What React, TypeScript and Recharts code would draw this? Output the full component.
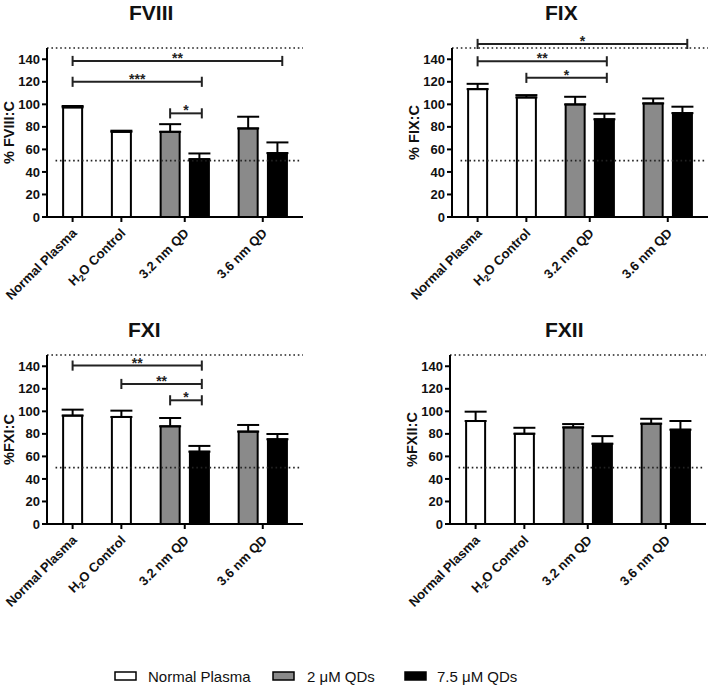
import React from 'react';
import { BarChart, Bar, XAxis, YAxis, ErrorBar, ReferenceLine } from 'recharts';

const FONT = 'Arial, "Liberation Sans", Helvetica, sans-serif';

// ---- data ----
const categories = ['Normal Plasma', 'H2O Control', '3.2 nm QD', '3.6 nm QD'];
const legendLabels = ['Normal Plasma', '2 \u03bcM QDs', '7.5 \u03bcM QDs'];
// group of each of the six bars (index into legendLabels)
const barGroup = [0, 0, 1, 2, 1, 2];
const yTicks = [0, 20, 40, 60, 80, 100, 120, 140];

const fviiiMean = [97.3, 75.6, 75.6, 51.3, 78.6, 56.7];
const fviiiSD = [1.2, 1.0, 6.8, 5.1, 10.4, 9.5];
const fixMean = [113.5, 106.1, 99.9, 86.7, 100.8, 92.2];
const fixSD = [4.7, 2.1, 6.8, 5.0, 4.4, 5.7];
const fxiMean = [96.2, 95.0, 86.7, 64.2, 82.0, 75.2];
const fxiSD = [5.3, 5.6, 7.4, 5.1, 5.9, 4.7];
const fxiiMean = [91.4, 80.1, 85.7, 71.2, 89.0, 83.7];
const fxiiSD = [8.3, 5.3, 3.0, 6.8, 4.4, 7.7];

type Bracket = { from: string; to: string; level: number; mark: string };
const fviiiSig: Bracket[] = [
  { from: 'NP', to: 'B36', level: 138.5, mark: '**' },
  { from: 'NP', to: 'B32', level: 120, mark: '***' },
  { from: 'G32', to: 'B32', level: 92, mark: '*' },
];
const fixSig: Bracket[] = [
  { from: 'NP', to: 'B36', level: 153.6, mark: '*' },
  { from: 'NP', to: 'B32', level: 138.2, mark: '**' },
  { from: 'H2O', to: 'B32', level: 123.5, mark: '*' },
];
const fxiSig: Bracket[] = [
  { from: 'NP', to: 'B32', level: 140.6, mark: '**' },
  { from: 'H2O', to: 'B32', level: 124.3, mark: '**' },
  { from: 'G32', to: 'B32', level: 109.8, mark: '*' },
];
const fxiiSig: Bracket[] = [];

// ---- layout (fine category grid) ----
const N_SLOTS = 105;
const BAR_SLOT = [10, 30, 50, 62, 82, 94];
const TICK_SLOT = [10, 30, 56, 88];
const BRACKET_SLOT: Record<string, number> = { NP: 10, H2O: 30, G32: 50, B32: 63, B36: 96 };
const GROUP_FILL = ['#ffffff', '#8a8a8a', '#000000'];

const slotName = (i: number) => 's' + i;

function buildData(mean: number[], sd: number[]) {
  const rows: any[] = [];
  for (let i = 0; i < N_SLOTS; i++) rows.push({ slot: slotName(i), v: null, err: undefined, group: -1 });
  BAR_SLOT.forEach((s, k) => {
    rows[s] = { slot: slotName(s), v: mean[k], err: [0, sd[k]], group: barGroup[k] };
  });
  return rows;
}

const BarShape = (props: any) => {
  const { x, y, width, height, payload } = props;
  if (!payload || payload.v == null || !height) return <g />;
  const cx = x + width / 2;
  return (
    <rect x={cx - 9.5} y={y} width={19} height={height} fill={GROUP_FILL[payload.group]} stroke="#000" strokeWidth={2} />
  );
};

const XTick = (props: any) => {
  const { x, y, payload } = props;
  const n = Number(String(payload.value).slice(1));
  const idx = TICK_SLOT.indexOf(n);
  if (idx < 0) return <g />;
  const label = categories[idx];
  return (
    <g>
      <line x1={x} x2={x} y1={y - 5} y2={y} stroke="#000" strokeWidth={2} />
      <text
        transform={`translate(${x + 5},${y + 12}) rotate(-45)`}
        textAnchor="end"
        fontSize={13}
        fontWeight="bold"
        fontFamily={FONT}
        fill="#111"
      >
        {label === 'H2O Control' ? (
          <>
            H<tspan fontSize={9} dy={3}>2</tspan>
            <tspan dy={-3}>O Control</tspan>
          </>
        ) : (
          label
        )}
      </text>
    </g>
  );
};

const yLabel = (text: string) => (props: any) => {
  const vb = props.viewBox || {};
  const cx = vb.x + vb.width - 38.5;
  const cy = vb.y + vb.height / 2;
  return (
    <text
      x={cx}
      y={cy}
      transform={`rotate(-90 ${cx} ${cy})`}
      textAnchor="middle"
      dominantBaseline="central"
      fontSize={14.5}
      fontWeight="bold"
      fontFamily={FONT}
      fill="#111"
    >
      {text}
    </text>
  );
};

const starLabel = (mark: string) => (props: any) => {
  const vb = props.viewBox || {};
  const cx = vb.x + (vb.width || 0) / 2;
  return (
    <text x={cx} y={vb.y + 2} textAnchor="middle" fontSize={14} fontWeight="bold" fontFamily={FONT} fill="#222">
      {mark}
    </text>
  );
};

const DOT = { stroke: '#222', strokeWidth: 1.6, strokeDasharray: '1.6 2.8' };

function Panel(p: { left: number; top: number; mean: number[]; sd: number[]; sig: Bracket[]; yTitle: string }) {
  const data = buildData(p.mean, p.sd);
  const lines: any[] = [];
  p.sig.forEach((b, i) => {
    const a = slotName(BRACKET_SLOT[b.from]);
    const c = slotName(BRACKET_SLOT[b.to]);
    const ls = { stroke: '#222', strokeWidth: 2 };
    lines.push(
      <ReferenceLine
        key={'h' + i}
        segment={[{ x: a, y: b.level }, { x: c, y: b.level }]}
        ifOverflow="visible"
        {...ls}
        label={starLabel(b.mark)}
      />
    );
    lines.push(
      <ReferenceLine key={'l' + i} segment={[{ x: a, y: b.level - 4.5 }, { x: a, y: b.level + 4.5 }]} ifOverflow="visible" {...ls} />
    );
    lines.push(
      <ReferenceLine key={'r' + i} segment={[{ x: c, y: b.level - 4.5 }, { x: c, y: b.level + 4.5 }]} ifOverflow="visible" {...ls} />
    );
  });
  return (
    <div style={{ position: 'absolute', left: p.left, top: p.top }}>
      <BarChart width={303} height={314} data={data} margin={{ top: 48, right: 0, bottom: 0, left: 0 }}>
        <XAxis
          dataKey="slot"
          type="category"
          interval={0}
          tickLine={false}
          tickSize={5}
          tickMargin={0}
          tick={<XTick />}
          axisLine={{ stroke: '#000', strokeWidth: 2 }}
          height={97}
        />
        <YAxis
          width={47}
          domain={[0, 150]}
          ticks={yTicks}
          interval={0}
          tickSize={5}
          tickMargin={2}
          axisLine={{ stroke: '#000', strokeWidth: 2 }}
          tickLine={{ stroke: '#000', strokeWidth: 2 }}
          tick={{ fontSize: 13, fontWeight: 'bold', fill: '#111', fontFamily: FONT }}
          label={yLabel(p.yTitle)}
        />
        <ReferenceLine y={150} ifOverflow="visible" {...DOT} />
        <ReferenceLine segment={[{ x: 's3', y: 50 }, { x: slotName(N_SLOTS - 1), y: 50 }]} {...DOT} />
        <Bar dataKey="v" shape={<BarShape />} isAnimationActive={false}>
          <ErrorBar dataKey="err" width={11} stroke="#000" strokeWidth={2} direction="y" isAnimationActive={false} />
        </Bar>
        {lines}
      </BarChart>
    </div>
  );
}

export default function App() {
  const legendBoxX = [115, 273, 405];
  const legendTextX = [148, 307, 437];
  return (
    <div
      style={{
        position: 'fixed',
        left: 0,
        top: 0,
        width: 709,
        height: 687,
        background: '#fff',
        overflow: 'hidden',
        fontFamily: FONT,
      }}
    >
      <Panel left={0} top={0} mean={fviiiMean} sd={fviiiSD} sig={fviiiSig} yTitle="% FVIII:C" />
      <Panel left={405} top={0} mean={fixMean} sd={fixSD} sig={fixSig} yTitle="% FIX:C" />
      <Panel left={0} top={307} mean={fxiMean} sd={fxiSD} sig={fxiSig} yTitle="%FXI:C" />
      <Panel left={403} top={307} mean={fxiiMean} sd={fxiiSD} sig={fxiiSig} yTitle="%FXII:C" />
      <svg width={709} height={687} style={{ position: 'absolute', left: 0, top: 0, pointerEvents: 'none' }}>
        <g fontFamily={FONT} fontWeight="bold" fontSize={21} fill="#111">
          <text x={129} y={20}>FVIII</text>
          <text x={545} y={20}>FIX</text>
          <text x={128} y={337}>FXI</text>
          <text x={545} y={337}>FXII</text>
        </g>
        {legendLabels.map((l, i) => (
          <g key={l}>
            <rect x={legendBoxX[i]} y={672} width={21} height={8} fill={GROUP_FILL[i]} stroke="#000" strokeWidth={1.5} />
            <text x={legendTextX[i]} y={681.5} fontSize={15} fontFamily={FONT} fill="#111">
              {l}
            </text>
          </g>
        ))}
      </svg>
    </div>
  );
}
